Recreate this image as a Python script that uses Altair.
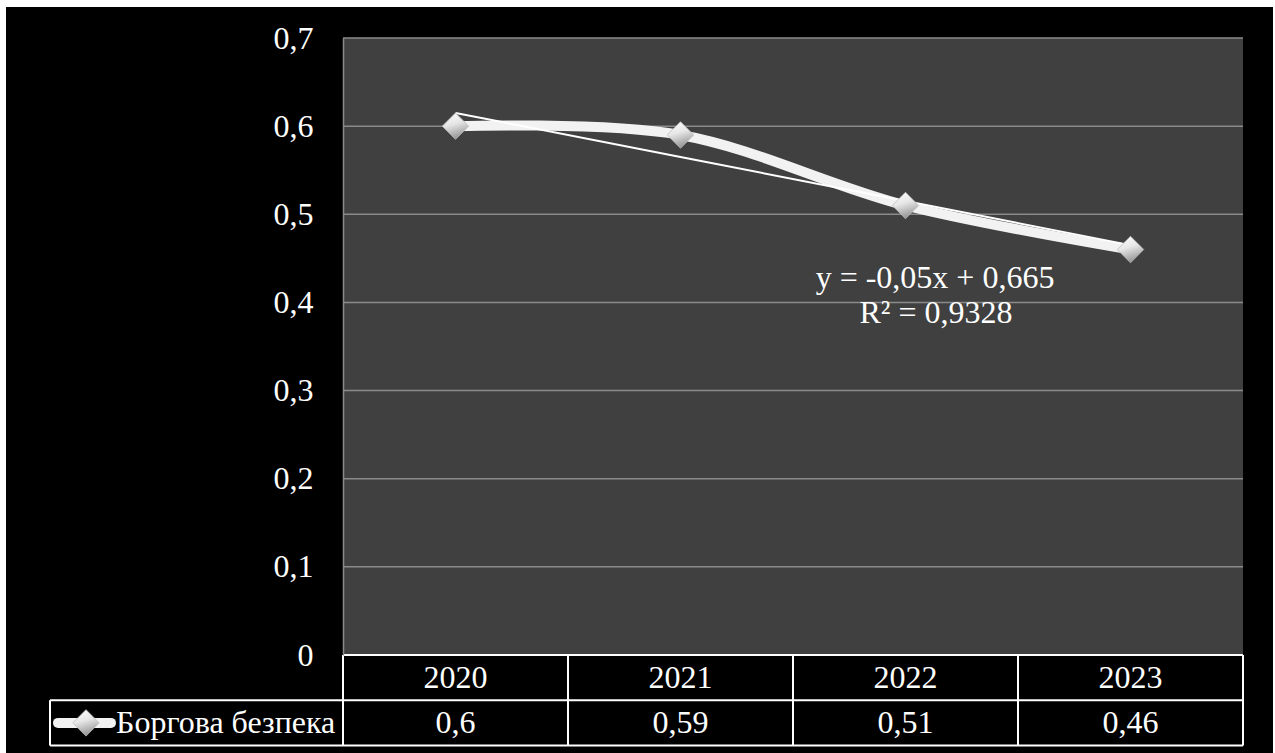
import altair as alt
import pandas as pd

# ---- data -------------------------------------------------------------
years = ["2020", "2021", "2022", "2023"]
debt_security = [0.6, 0.59, 0.51, 0.46]
series_name = "Боргова безпека"
y_ticks = [0, 0.1, 0.2, 0.3, 0.4, 0.5, 0.6, 0.7]
grid_levels = [0.1, 0.2, 0.3, 0.4, 0.5, 0.6, 0.7]

# linear trendline reported on the chart
trend_slope = -0.05
trend_intercept = 0.665
trend_r2 = 0.9328

# ---- layout -----------------------------------------------------------
W, H = 900, 617            # plot area
ROW = 45.25                # data-table row height
FONT = "Liberation Serif"
FS = 32
LINE_COLOR = "#f2f2f2"
PLOT_FILL = "#404040"
GRID_COLOR = "#8a8a8a"


def comma(v):
    return f"{v:g}".replace(".", ",")


df = pd.DataFrame({"year": years, "value": debt_security})
df["n"] = range(1, len(years) + 1)
df["trend"] = trend_slope * df["n"] + trend_intercept
df["label"] = [comma(v) for v in debt_security]

grid_df = pd.DataFrame({"level": grid_levels})
one = alt.Data(values=[{}])

xscale = alt.Scale(type="band", domain=years, paddingInner=0, paddingOuter=0)
yscale = alt.Scale(domain=[0, 0.7], nice=False, zero=True)

X = alt.X("year:N", scale=xscale, axis=None)

# black chart canvas on the white page, and the grey plot area
canvas = alt.Chart(one).mark_rect(color="black").encode(
    x=alt.value(-337), x2=alt.value(930), y=alt.value(-31), y2=alt.value(715)
)
plot_bg = alt.Chart(one).mark_rect(color=PLOT_FILL).encode(
    x=alt.value(0), x2=alt.value(W), y=alt.value(0), y2=alt.value(H)
)

grid = alt.Chart(grid_df).mark_rule(color=GRID_COLOR, strokeWidth=1.5).encode(
    y=alt.Y(
        "level:Q",
        scale=yscale,
        axis=alt.Axis(
            values=y_ticks,
            labelExpr="datum.value == 0 ? '0' : replace(format(datum.value, '.1f'), '.', ',')",
            grid=False,
            ticks=False,
            domain=True,
            domainColor=GRID_COLOR,
            domainWidth=1.5,
            labelColor="white",
            labelFont=FONT,
            labelFontSize=FS,
            labelPadding=30,
            title=None,
            zindex=1,
        ),
    ),
    x=alt.value(0),
    x2=alt.value(W),
)

base = alt.Chart(df)

series = base.mark_line(
    color=LINE_COLOR, strokeWidth=10, strokeCap="round", strokeJoin="round",
    interpolate="cardinal", tension=0,
).encode(x=X, y=alt.Y("value:Q", scale=yscale, axis=None))

trend = base.mark_line(color="white", strokeWidth=2).encode(
    x=X, y=alt.Y("trend:Q", scale=yscale, axis=None)
)

diamond_fill = alt.LinearGradient(
    gradient="linear",
    stops=[
        alt.GradientStop(color="#ffffff", offset=0),
        alt.GradientStop(color="#e6e6e6", offset=0.5),
        alt.GradientStop(color="#9a9a9a", offset=1),
    ],
    x1=0, x2=0.3, y1=0, y2=1,
)

markers = base.mark_point(
    shape="diamond", filled=True, size=700, fill=diamond_fill, opacity=1,
    stroke="#bdbdbd", strokeWidth=0.8,
).encode(x=X, y=alt.Y("value:Q", scale=yscale, axis=None))

eq_text = f"y = {comma(trend_slope)}x + {comma(trend_intercept)}"
r2_text = f"R² = {comma(trend_r2)}"
eq1 = alt.Chart(one).mark_text(
    font=FONT, fontSize=FS, color="white", align="center", baseline="middle"
).encode(x=alt.value(592), y=alt.value(240), text=alt.value(eq_text))
eq2 = alt.Chart(one).mark_text(
    font=FONT, fontSize=FS, color="white", align="center", baseline="middle"
).encode(x=alt.value(593), y=alt.value(275), text=alt.value(r2_text))

# ---- data table below the plot ------------------------------------
row1_mid = H + ROW / 2
row2_mid = H + ROW * 1.5
legend_left = -293

year_cells = base.mark_text(
    font=FONT, fontSize=FS, color="white", baseline="middle"
).encode(x=X, y=alt.value(row1_mid), text="year:N")

value_cells = base.mark_text(
    font=FONT, fontSize=FS, color="white", baseline="middle"
).encode(x=X, y=alt.value(row2_mid), text="label:N")

col_left = base.mark_rule(color="white", strokeWidth=2).encode(
    x=alt.X("year:N", scale=xscale, axis=None, bandPosition=0),
    y=alt.value(H), y2=alt.value(H + 2 * ROW),
)
col_right = base.mark_rule(color="white", strokeWidth=2).encode(
    x=alt.X("year:N", scale=xscale, axis=None, bandPosition=1),
    y=alt.value(H), y2=alt.value(H + 2 * ROW),
)

hlines = alt.layer(
    alt.Chart(one).mark_rule(color="white", strokeWidth=2).encode(
        x=alt.value(0), x2=alt.value(W), y=alt.value(H)
    ),
    alt.Chart(one).mark_rule(color="white", strokeWidth=2).encode(
        x=alt.value(legend_left), x2=alt.value(W), y=alt.value(H + ROW)
    ),
    alt.Chart(one).mark_rule(color="white", strokeWidth=2).encode(
        x=alt.value(legend_left), x2=alt.value(W), y=alt.value(H + 2 * ROW)
    ),
    alt.Chart(one).mark_rule(color="white", strokeWidth=2).encode(
        x=alt.value(legend_left), y=alt.value(H + ROW), y2=alt.value(H + 2 * ROW)
    ),
)

# legend key inside the table's first cell
key_line = alt.Chart(one).mark_rule(
    color=LINE_COLOR, strokeWidth=10, strokeCap="round"
).encode(x=alt.value(-285), x2=alt.value(-232), y=alt.value(row2_mid))
key_marker = alt.Chart(one).mark_point(
    shape="diamond", filled=True, size=700, fill=diamond_fill, opacity=1,
    stroke="#bdbdbd", strokeWidth=0.8,
).encode(x=alt.value(-257), y=alt.value(row2_mid))
key_text = alt.Chart(one).mark_text(
    font=FONT, fontSize=FS, color="white", align="left", baseline="middle"
).encode(x=alt.value(-227), y=alt.value(row2_mid), text=alt.value(series_name))

chart = alt.layer(
    canvas, plot_bg, grid, series, trend, markers, eq1, eq2,
    year_cells, value_cells, col_left, col_right, hlines,
    key_line, key_marker, key_text,
).resolve_axis(
    y="independent"
).properties(
    width=W,
    height=H,
    padding={"left": 343, "top": 38, "right": 32, "bottom": 98},
    autosize=alt.AutoSizeParams(type="none"),
    background="white",
).configure_view(
    strokeWidth=0, fill=None
)

chart.save("out.html", embed_options={"renderer": "svg", "actions": False})
